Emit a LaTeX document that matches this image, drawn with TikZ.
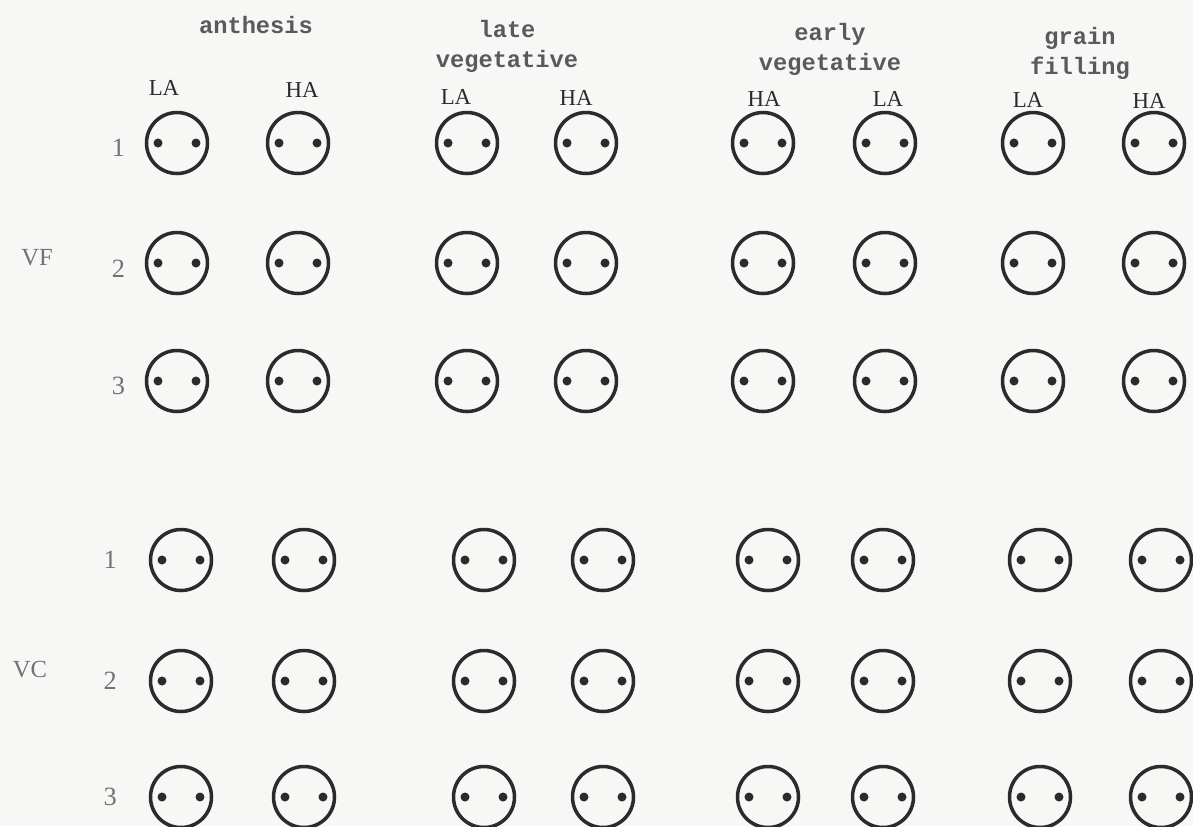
\documentclass[tikz,border=0pt]{standalone}
\usepackage{fontspec}
\setmainfont{Liberation Serif}
\setmonofont{Liberation Mono}
\usetikzlibrary{positioning}
\definecolor{Paper}{HTML}{F7F7F6}
\definecolor{Ink}{HTML}{2B2B2B}
\definecolor{Pencil}{HTML}{5A5A5A}
\definecolor{Faded}{HTML}{727272}

\begin{document}
\begin{tikzpicture}[x=0.02cm,y=-0.02cm,
    floret/.style={circle,draw=Ink,line width=2pt,minimum size=1.22cm,inner sep=0pt,
                   path picture={
                     \fill[Ink] (path picture bounding box.center) ++(-0.38cm,0) circle (0.09cm);
                     \fill[Ink] (path picture bounding box.center) ++(0.38cm,0) circle (0.09cm);}},
    stage/.style={align=center,font=\ttfamily\bfseries\fontsize{13.5}{17}\selectfont,text=Pencil,inner sep=0pt},
    light/.style={font=\fontsize{13}{14}\selectfont,text=Ink,inner sep=0pt},
    rowno/.style={font=\fontsize{15}{16}\selectfont,text=Faded,inner sep=0pt},
    block/.style={font=\fontsize{14}{15}\selectfont,text=Faded,inner sep=0pt}]
    \fill[Paper] (0,0) rectangle (1193,826);
    \useasboundingbox (0,0) rectangle (1193,826);
    % growth stages
    \node[stage] (anth) at (256,25) {anthesis};
    \node[stage] (latev) at (507,46) {late\\vegetative};
    \node[stage] (earlyv) at (830,49) {early\\vegetative};
    \node[stage] (grain) at (1080,53) {grain\\filling};
    % light levels
    \foreach \x/\y/\lab [count=\c] in {164/88/LA,302/90/HA,456/97/LA,576/98/HA,
                                       764/99/HA,888/99/LA,1028/100/LA,1149/101/HA}
      \node[light] (lab\c) at (\x,\y) {\lab};
    % VF block
    \foreach \x [count=\c] in {177,298,467,586,763,885,1033,1154}
      \foreach \y [count=\r] in {143,263,381}
        \node[floret] (vf\r\c) at (\x,\y) {};
    \foreach \r in {1,2,3}
      \node[rowno,left=11pt of vf\r1,yshift=-3pt] (vfn\r) {\r};
    \node[block] (vf) at (37,258) {VF};
    % VC block
    \foreach \x [count=\c] in {181,304,484,603,768,883,1040,1161}
      \foreach \y [count=\r] in {560,681,797}
        \node[floret] (vc\r\c) at (\x,\y) {};
    \foreach \r in {1,2,3}
      \node[rowno,left=18pt of vc\r1] (vcn\r) {\r};
    \node[block] (vc) at (30,670) {VC};
  \end{tikzpicture}
\end{document}
